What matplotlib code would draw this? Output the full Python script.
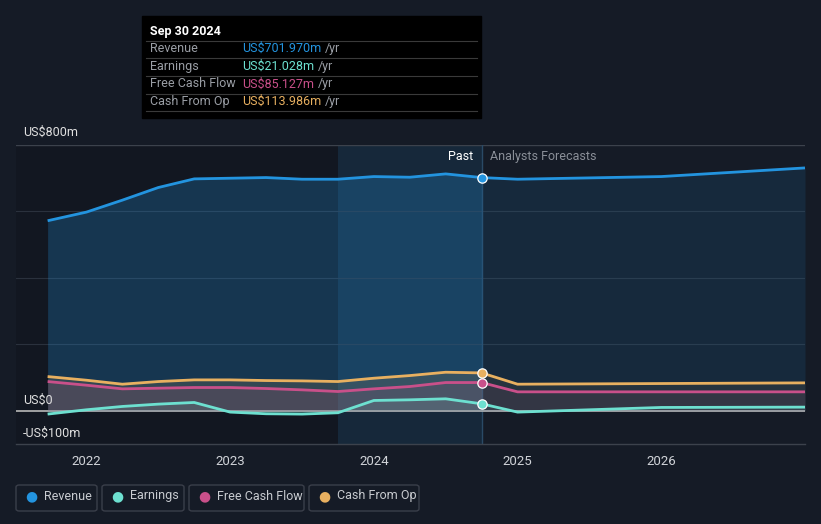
import numpy as np
import matplotlib.pyplot as plt
from matplotlib.patches import FancyBboxPatch, Rectangle

# =====================================
# Data (US$m, trailing twelve months)
# =====================================

past_t = [2021.73, 2022.0, 2022.25, 2022.5, 2022.75, 2023.0, 2023.25,
          2023.5, 2023.75, 2024.0, 2024.25, 2024.5, 2024.75]
past_revenue = [572, 598, 634, 672, 698, 700, 702, 697, 697, 705, 703, 713, 702]
past_earnings = [-10, 3, 13, 20, 25, -4, -9, -10, -6, 31, 33, 36, 21]
past_fcf = [88, 77, 66, 68, 70, 70, 67, 63, 58, 66, 73, 85, 85]
past_cfo = [103, 92, 80, 88, 93, 93, 91, 90, 88, 98, 106, 116, 114]

fc_t = [2024.75, 2025.0, 2026.0, 2027.0]
fc_revenue = [702, 697, 705, 731]
fc_earnings = [21, -4, 10, 11]
fc_fcf = [85, 57, 57, 57]
fc_cfo = [114, 80, 82, 84]

year_ticks = [2022, 2023, 2024, 2025, 2026]
highlight_start = 2023.75
now_t = 2024.75

names = ["Revenue", "Earnings", "Free Cash Flow", "Cash From Op"]
colors = ["#2394df", "#6de0d0", "#c9508a", "#e8b060"]
tooltip_values = ["US$701.970m", "US$21.028m", "US$85.127m", "US$113.986m"]

# =====================================
# Figure
# =====================================

bg = "#151b26"
plt.rcParams["font.family"] = ["Roboto", "DejaVu Sans"]

fig = plt.figure(figsize=(8.21, 5.24), dpi=100, facecolor=bg)
ax = fig.add_axes([16 / 821, 1 - 444 / 524, 789 / 821, 299 / 524])
ax.set_facecolor(bg)
ax.set_xlim(2021.51, 2027.0)
ax.set_ylim(-100, 800)

# past darker, highlight lighter
ax.axvspan(2021.51, highlight_start, color="#000000", alpha=0.12, lw=0)
ax.axvspan(highlight_start, now_t, color="#2394df", alpha=0.11, lw=0)
ax.axvline(now_t, color="#2a4a66", lw=1)

# grid
for v in [200, 400, 600]:
    ax.axhline(v, color="#2a313d", lw=0.8, zorder=1)
ax.axhline(800, color="#3c424c", lw=1, zorder=1)
ax.axhline(0, color="#b8b8b8", lw=1.2, zorder=2)

series = [
    (past_revenue, fc_revenue),
    (past_earnings, fc_earnings),
    (past_fcf, fc_fcf),
    (past_cfo, fc_cfo),
]

for (p, f), c, in zip(series, colors):
    a_past = 0.25 if c == colors[0] else 0.14
    a_fc = 0.12 if c == colors[0] else 0.08
    ax.fill_between(past_t, p, 0, color=c, alpha=a_past, lw=0, zorder=2)
    ax.fill_between(fc_t, f, 0, color=c, alpha=a_fc, lw=0, zorder=2)
    ax.plot(past_t, p, color=c, lw=2, zorder=4, solid_capstyle="butt")
    ax.plot(fc_t, f, color=c, lw=2, zorder=4, solid_capstyle="butt")
    ax.scatter([now_t], [p[-1]], s=45, color=c, edgecolor="white",
               linewidth=0.9, zorder=6)

for s in ["top", "right", "left"]:
    ax.spines[s].set_visible(False)
ax.spines["bottom"].set_color("#3c424c")
ax.spines["bottom"].set_linewidth(1)
ax.set_yticks([])
ax.set_xticks(year_ticks)
ax.set_xticklabels([str(y) for y in year_ticks], color="#d0d3d8", fontsize=9.5)
ax.tick_params(axis="x", length=0, pad=8)

# y labels
ax.text(2021.56, 818, "US$800m", color="#e0e0e0", fontsize=9, va="bottom")
ax.text(2021.56, 12, "US$0", color="#e0e0e0", fontsize=9, va="bottom")
ax.text(2021.56, -88, "-US$100m", color="#e0e0e0", fontsize=9, va="bottom")

ax.text(now_t - 0.06, 765, "Past", color="#ffffff", fontsize=9,
        ha="right", va="center")
ax.text(now_t + 0.06, 765, "Analysts Forecasts", color="#8a8f98",
        fontsize=9, ha="left", va="center")

# =====================================
# Tooltip
# =====================================

W, H = 821, 524


def fx(px):
    return px / W


def fy(py):
    return 1 - py / H


fig.patches.append(Rectangle((fx(142), fy(118)), fx(481) - fx(142),
                             fy(16) - fy(118), transform=fig.transFigure,
                             color="#000000", zorder=5))
fig.text(fx(150), fy(31), "Sep 30 2024", color="white", fontsize=9,
         va="center", fontweight="bold", zorder=6)
for i, (n, c, v) in enumerate(zip(names, colors, tooltip_values)):
    y = 48.5 + i * 17.7
    line_y = 40.5 + i * 17.7
    fig.lines.append(plt.Line2D([fx(142 + 4), fx(481 - 4)],
                                [fy(line_y), fy(line_y)],
                                transform=fig.transFigure,
                                color="#3a3a3a", lw=0.8, zorder=6))
    fig.text(fx(150), fy(y), n, color="#9a9ea5", fontsize=9,
             va="center", zorder=6)
    t = fig.text(fx(242), fy(y), v, color=c, fontsize=9, va="center",
                 zorder=6)
    fig.canvas.draw()
    bb = t.get_window_extent()
    fig.text(bb.x1 / W + fx(4), fy(y), "/yr", color="#9a9ea5",
             fontsize=9, va="center", zorder=6)
fig.lines.append(plt.Line2D([fx(146), fx(477)], [fy(111), fy(111)],
                            transform=fig.transFigure, color="#3a3a3a",
                            lw=0.8, zorder=6))

# =====================================
# Legend boxes
# =====================================

boxes = [(16, 97), (102, 184), (189, 304), (309, 419)]
for (x0, x1), n, c in zip(boxes, names, colors):
    fig.patches.append(FancyBboxPatch((fx(x0), fy(511)), fx(x1 - x0),
                                      fy(485) - fy(511),
                                      boxstyle="round,pad=0,rounding_size=0.004",
                                      transform=fig.transFigure,
                                      facecolor="none", edgecolor="#3a3f4a",
                                      lw=1))
    fig.text(fx(x0 + 15), fy(496), "\u25CF", color=c, fontsize=10,
             ha="center", va="center")
    fig.text(fx(x0 + 28), fy(496), n, color="#c8cbd0", fontsize=9,
             va="center")

fig.savefig("out.png", dpi=100, facecolor=bg)
